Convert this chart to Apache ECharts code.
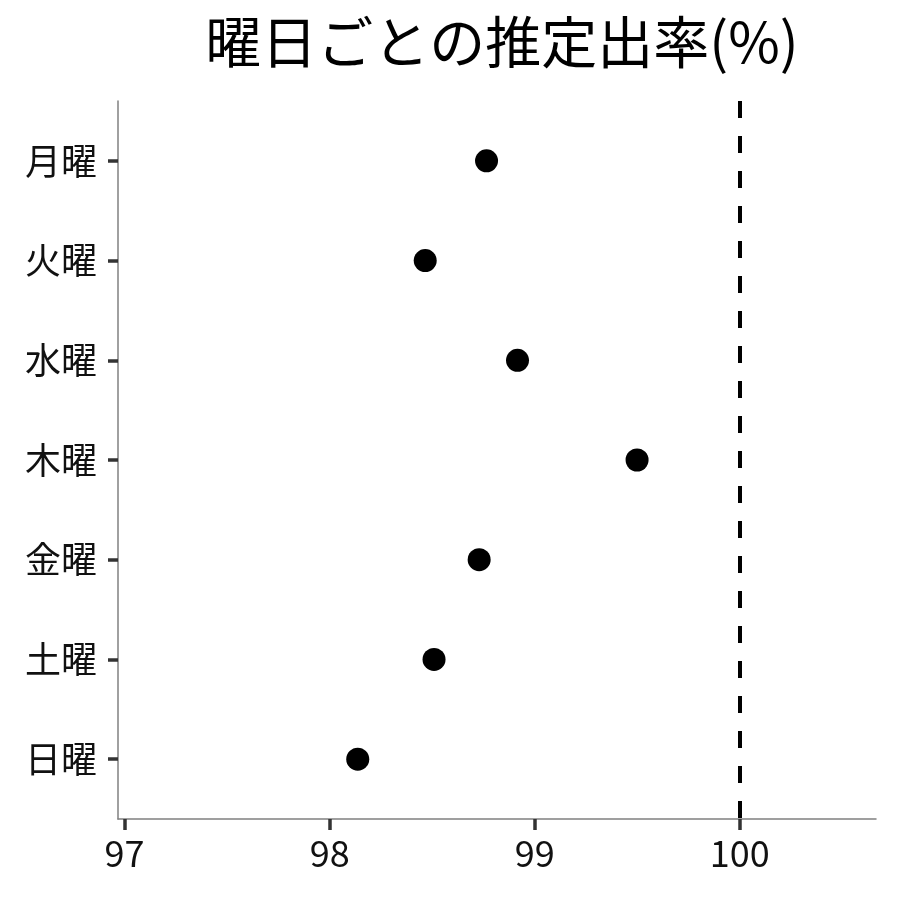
<!DOCTYPE html>
<html>
<head>
<meta charset="utf-8">
<script src="https://cdn.jsdelivr.net/npm/echarts@6/dist/echarts.min.js"></script>
<style>
  html, body { margin: 0; padding: 0; background: #fff; }
  #chart { width: 900px; height: 900px; }
</style>
</head>
<body>
<div id="chart"></div>
<script>
// 曜日ごとの推定出率
const days = ['月曜', '火曜', '水曜', '木曜', '金曜', '土曜', '日曜'];
const rates = [98.765, 98.466, 98.916, 99.499, 98.729, 98.509, 98.137];
const xTicks = [97, 98, 99, 100];
const refLine = 100;

const font = '"Noto Sans CJK JP", "Noto Sans", sans-serif';
const dayIndex = days.map((d, i) => i + 1);

const chart = echarts.init(document.getElementById('chart'));

const option = {
  backgroundColor: '#fff',
  animation: false,
  title: {
    text: '曜日ごとの推定出率(%)',
    left: 497,
    textAlign: 'center',
    top: 9,
    textStyle: {
      fontFamily: font,
      fontSize: 56,
      fontWeight: 'normal',
      color: '#000'
    }
  },
  grid: {
    left: 118,
    right: 24,
    top: 101,
    bottom: 81
  },
  xAxis: {
    type: 'value',
    min: 96.968,
    max: 100.664,
    splitLine: { show: false },
    axisLine: { show: true, lineStyle: { color: '#808080', width: 1.5 } },
    axisTick: {
      show: true,
      customValues: xTicks,
      length: 11,
      lineStyle: { color: '#333', width: 3.5 }
    },
    axisLabel: {
      customValues: xTicks,
      margin: 16,
      fontFamily: font,
      fontSize: 36,
      color: '#111'
    }
  },
  yAxis: {
    type: 'value',
    inverse: true,
    min: 0.4,
    max: 7.6,
    splitLine: { show: false },
    axisLine: { show: true, lineStyle: { color: '#808080', width: 1.5 } },
    axisTick: {
      show: true,
      customValues: dayIndex,
      length: 10,
      lineStyle: { color: '#333', width: 3.5 }
    },
    axisLabel: {
      customValues: dayIndex,
      margin: 21,
      fontFamily: font,
      fontSize: 36,
      color: '#111',
      formatter: v => days[Math.round(v) - 1] || ''
    }
  },
  series: [{
    type: 'scatter',
    symbol: 'circle',
    symbolSize: 23,
    itemStyle: { color: '#000', opacity: 1 },
    data: rates.map((r, i) => [r, i + 1]),
    markLine: {
      silent: true,
      symbol: 'none',
      label: { show: false },
      lineStyle: { color: '#000', width: 4, type: [17, 18] },
      data: [{ xAxis: refLine }]
    }
  }]
};

chart.setOption(option);
</script>
</body>
</html>
